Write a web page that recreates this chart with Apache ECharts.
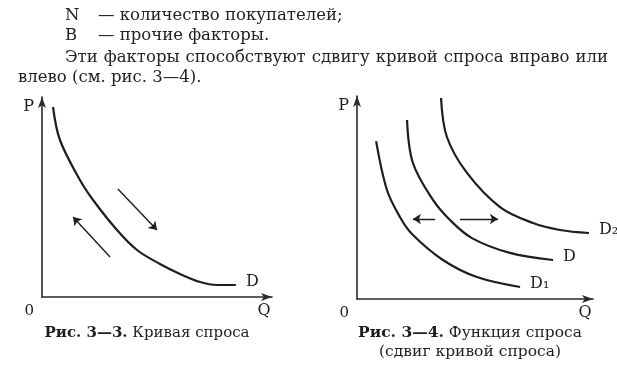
<!DOCTYPE html>
<html>
<head>
<meta charset="utf-8">
<script src="https://cdn.jsdelivr.net/npm/echarts@6/dist/echarts.min.js"></script>
<style>
  html, body { margin: 0; padding: 0; background: #fff; }
  #page { position: relative; width: 617px; height: 378px; overflow: hidden; }
  #main { position: absolute; left: 0; top: 0; width: 617px; height: 378px; }
  .txt { position: absolute; font-family: "DejaVu Serif", serif; font-size: 16.5px; color: #222; white-space: nowrap; line-height: 20px; }
  .just { display: flex; justify-content: space-between; }
</style>
</head>
<body>
<div id="page">
  <div id="main"></div>
  <div class="txt" style="left:65px; top:5px;">N</div>
  <div class="txt" style="left:98px; top:5px;">— количество покупателей;</div>
  <div class="txt" style="left:65px; top:25px;">B</div>
  <div class="txt" style="left:98px; top:25px;">— прочие факторы.</div>
  <div class="txt just" style="left:65px; top:47px; width:543px;">
    <span>Эти</span><span>факторы</span><span>способствуют</span><span>сдвигу</span><span>кривой</span><span>спроса</span><span>вправо</span><span>или</span>
  </div>
  <div class="txt" style="left:18px; top:67px;">влево (см. рис. 3—4).</div>
</div>

<script type="text/javascript">
    // Рис. 3-3: one demand curve (Q, P in 0..100 units of each axis)
    var curveD = [[4.8, 95], [7.8, 78.5], [16.5, 58.5], [22.2, 48.5], [32.6, 33.5], [41.3, 23.5],
                  [51.3, 16.5], [60, 11.5], [68.7, 7.5], [76.1, 6], [84.3, 6]];
    var arrowsMove = [[[33, 54], [50, 33.5]], [[29.6, 20], [13.5, 40]]];

    // Рис. 3-4: shifted demand curves
    var curveD1 = [[8.1, 77.8], [12.7, 53.7], [18.2, 40.4], [23.3, 32], [36.4, 19.2], [50.8, 10.8], [69.1, 5.9]];
    var curveDmid = [[21.2, 88.2], [23.7, 67], [32.2, 48.8], [39.4, 38.9], [48.7, 30], [64.8, 22.7], [83.1, 19.2]];
    var curveD2 = [[35.6, 99], [38.1, 79.8], [46.6, 62.1], [60.6, 45.3], [74.6, 37.4], [86, 34], [98.3, 32.5]];
    var arrowsShift = [[[33.1, 39.4], [23.7, 39.4]], [[43.6, 39.4], [59.7, 39.4]]];

    var ink = '#1e1e1e';
    var serif = '"DejaVu Serif", serif';

    function makeX(gi) {
        return {
            type: 'value', gridIndex: gi, min: 0, max: 100, interval: 100,
            name: 'Q', nameLocation: 'end', nameGap: -8,
            nameTextStyle: { fontFamily: serif, fontSize: 16, color: ink, align: 'center', verticalAlign: 'top', padding: [6, 0, 0, 0] },
            axisLine: { symbol: ['none', 'arrow'], symbolSize: [6, 11], lineStyle: { color: '#2a2a2a', width: 1.6 } },
            axisTick: { show: false },
            splitLine: { show: false },
            axisLabel: {
                fontFamily: serif, fontSize: 15, color: ink, margin: 7, align: 'right', padding: [0, 8, 0, 0],
                formatter: function (v) { return v === 0 ? '0' : ''; }
            }
        };
    }
    function makeY(gi) {
        return {
            type: 'value', gridIndex: gi, min: 0, max: 100,
            name: 'P', nameLocation: 'end', nameGap: -10,
            nameTextStyle: { fontFamily: serif, fontSize: 16, color: ink, align: 'right', verticalAlign: 'middle', padding: [0, 8, 0, 0] },
            axisLine: { symbol: ['none', 'arrow'], symbolSize: [6, 11], lineStyle: { color: '#2a2a2a', width: 1.6 } },
            axisTick: { show: false },
            splitLine: { show: false },
            axisLabel: { show: false }
        };
    }
    function curve(data, label, gi) {
        return {
            type: 'line', xAxisIndex: gi, yAxisIndex: gi, data: data,
            smooth: 0.35, showSymbol: false, silent: true, clip: false,
            lineStyle: { color: ink, width: 2.2 },
            endLabel: { show: true, formatter: label, fontFamily: serif, fontSize: 16, color: ink, distance: 10, offset: [0, -3] }
        };
    }
    function arrows(pairs, gi) {
        return {
            type: 'lines', coordinateSystem: 'cartesian2d', xAxisIndex: gi, yAxisIndex: gi, silent: true,
            symbol: ['none', 'arrow'], symbolSize: 8,
            lineStyle: { color: ink, width: 1.4, opacity: 1 },
            data: pairs.map(function (p) { return { coords: p }; })
        };
    }
    function caption(text, x, y, size) {
        return {
            type: 'text', x: x, y: y,
            style: {
                text: text, fontFamily: serif, fontSize: size, fill: ink, align: 'center', verticalAlign: 'middle',
                rich: { b: { fontWeight: 'bold', fontFamily: serif, fontSize: size } }
            }
        };
    }

    var myChart = echarts.init(document.getElementById('main'));
    myChart.setOption({
        animation: false,
        backgroundColor: '#fff',
        grid: [
            { left: 42, top: 97, width: 230, height: 200 },
            { left: 357, top: 96, width: 236, height: 203 }
        ],
        xAxis: [makeX(0), makeX(1)],
        yAxis: [makeY(0), makeY(1)],
        graphic: [
            caption('{b|Рис. 3—3.} Кривая спроса', 147, 333, 15),
            caption('{b|Рис. 3—4.} Функция спроса', 470, 333, 15.5),
            caption('(сдвиг кривой спроса)', 470, 352, 15.5)
        ],
        series: [
            curve(curveD, 'D', 0),
            arrows(arrowsMove, 0),
            curve(curveD1, 'D₁', 1),
            curve(curveDmid, 'D', 1),
            curve(curveD2, 'D₂', 1),
            arrows(arrowsShift, 1)
        ]
    });
</script>
</body>
</html>
